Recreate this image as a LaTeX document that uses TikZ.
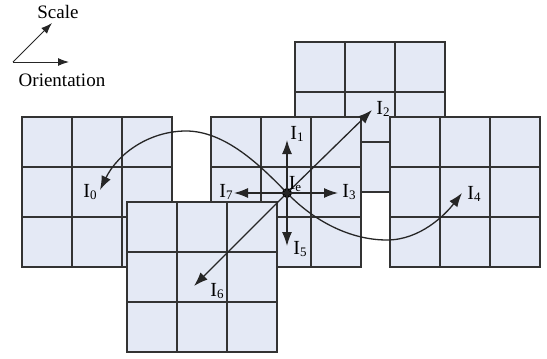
\documentclass[tikz,border=0pt]{standalone}
\usepackage{fontspec}
\setmainfont{Liberation Serif}
\usetikzlibrary{arrows.meta,calc}
\definecolor{gridc}{HTML}{333333}
\definecolor{cellc}{HTML}{E4E9F5}
\tikzset{
 gridbox/.style={draw=gridc, fill=cellc, line width=1.7pt, minimum size=150pt, inner sep=0pt, outer sep=0pt},
 gridline/.style={draw=gridc, line width=1.7pt},
 vec/.style={draw=black!85, line width=1.3pt, -{Latex[length=14pt,width=10pt]}},
 thinvec/.style={draw=black!85, line width=1pt, -{Latex[length=11pt,width=8pt]}},
 lbl/.style={font=\fontsize{20}{20}\selectfont, inner sep=0pt},
 txt/.style={font=\fontsize{19}{19}\selectfont, inner sep=0pt},
}
\newcommand{\sqgrid}[3]{%
 \node[gridbox] (#3) at (#1,#2) {};
 \draw[gridline] ($(#3.north west)!1/3!(#3.north east)$) -- ($(#3.south west)!1/3!(#3.south east)$);
 \draw[gridline] ($(#3.north west)!2/3!(#3.north east)$) -- ($(#3.south west)!2/3!(#3.south east)$);
 \draw[gridline] ($(#3.north west)!1/3!(#3.south west)$) -- ($(#3.north east)!1/3!(#3.south east)$);
 \draw[gridline] ($(#3.north west)!2/3!(#3.south west)$) -- ($(#3.north east)!2/3!(#3.south east)$);
}
\newcommand{\lab}[1]{I\raisebox{-0.15ex}{\fontsize{13}{13}\selectfont #1}}
\begin{document}
\begin{tikzpicture}[x=1pt,y=-1pt]
\path[use as bounding box] (0,0) rectangle (547,359);
% grids
\sqgrid{97}{192}{g0}
\sqgrid{370}{117}{g2}
\sqgrid{286}{192}{gc}
\sqgrid{465}{192}{g4}
\sqgrid{202}{277}{g6}
% legend
\coordinate (o) at (13,62);
\coordinate (sc) at (52,23);
\coordinate (or) at (69,62);
\draw[thinvec] (o) -- (sc);
\draw[thinvec] (o) -- (or);
\node[txt] (scale) at (58,12) {Scale};
\node[txt] (orient) at (62,80) {Orientation};
% center
\node[circle, fill=black, minimum size=10pt, inner sep=0pt] (ie) at (287,193) {};
\coordinate (t1) at (287,140);
\coordinate (t5) at (287,246);
\coordinate (t3) at (338,193);
\coordinate (t7) at (234,193);
\coordinate (t2) at (372,110);
\coordinate (t6) at (194,286);
\coordinate (t0) at (100,190);
\coordinate (t4) at (462,193);
\draw[vec] (ie.center) -- (t1);
\draw[vec] (ie.center) -- (t5);
\draw[vec] (ie.center) -- (t3);
\draw[vec] (ie.center) -- (t7);
\draw[vec] (ie.center) -- (t2);
\draw[vec] (ie.center) -- (t6);
% curve
\draw[draw=black!85, line width=1.3pt, {Latex[length=14pt,width=10pt]}-{Latex[length=14pt,width=10pt]}]
 (t0) .. controls (118,153) and (150,131) .. (186,131)
 .. controls (225,131) and (260,165) .. (ie.center)
 .. controls (314,221) and (350,240) .. (387,240)
 .. controls (420,240) and (445,215) .. (t4);
% labels
\node[lbl] (l0) at (90,192) {\lab{0}};
\node[lbl] (l1) at (297,134) {\lab{1}};
\node[lbl] (l2) at (383,109) {\lab{2}};
\node[lbl] (l3) at (349,192) {\lab{3}};
\node[lbl] (l4) at (474,194) {\lab{4}};
\node[lbl] (l5) at (300,249) {\lab{5}};
\node[lbl] (l6) at (217,291) {\lab{6}};
\node[lbl] (l7) at (226,192) {\lab{7}};
\node[lbl] (le) at (295,184) {\lab{e}};
\end{tikzpicture}
\end{document}
